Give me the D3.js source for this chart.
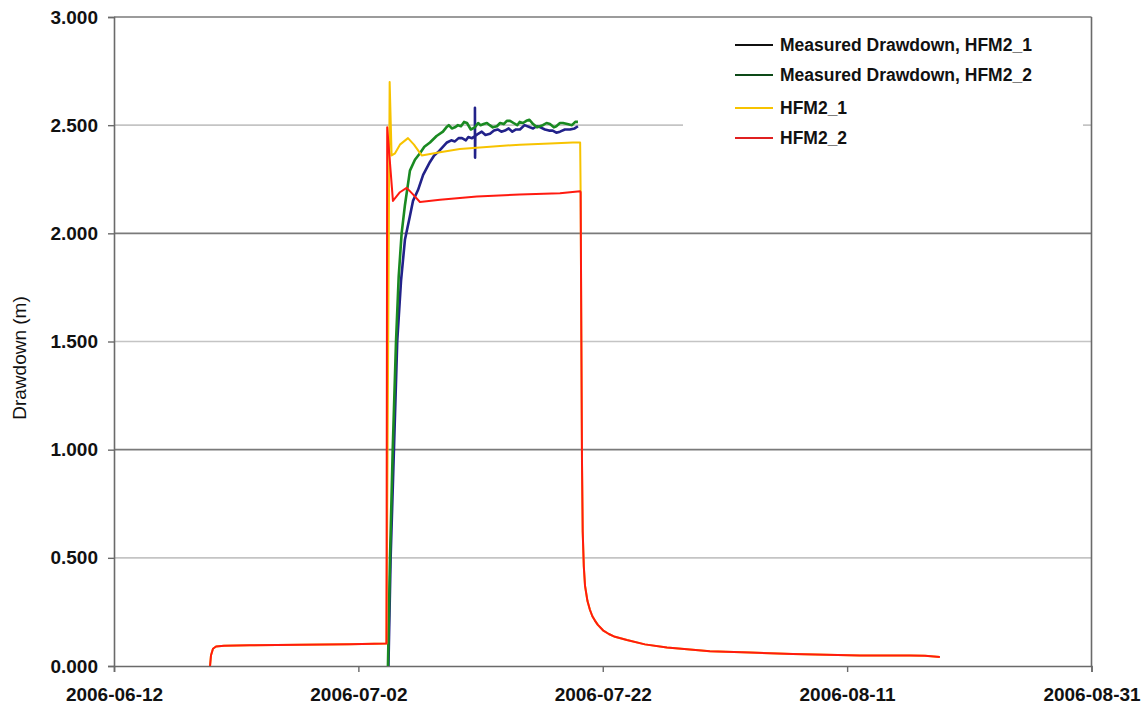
<!DOCTYPE html>
<html>
<head>
<meta charset="utf-8">
<script src="https://cdn.jsdelivr.net/npm/d3@7"></script>
<style>
  body { margin: 0; background: #fff; }
  svg { display: block; font-family: "Liberation Sans", Arial, sans-serif; }
</style>
</head>
<body>
<div id="chart"></div>
<script>
// Days since 2006-06-12 and drawdown (m)
const startDate = "2006-06-12";

const measured1Days = [22.46, 22.64, 22.91, 23.18, 23.49, 23.81, 24.22, 24.47, 24.88, 25.3, 25.86, 26.2, 26.6, 27.25,
  27.6, 27.9, 28.2, 28.48, 28.8, 29.0, 29.3, 29.54, 29.54, 29.55, 29.57, 29.8, 30.1, 30.4, 30.77, 31.1, 31.4, 31.7,
  32.0, 32.3, 32.6, 32.9, 33.22, 33.6, 34.04, 34.3, 34.6, 34.9, 35.27, 35.6, 35.9, 36.2, 36.5, 36.9, 37.32, 37.7, 37.97];
const measured1Vals = [0, 0.5, 1.0, 1.5, 1.78, 1.97, 2.08, 2.15, 2.2, 2.27, 2.33, 2.36, 2.38, 2.42,
  2.43, 2.425, 2.44, 2.44, 2.43, 2.445, 2.44, 2.45, 2.58, 2.35, 2.45, 2.46, 2.47, 2.455, 2.46, 2.475, 2.48, 2.47,
  2.475, 2.485, 2.47, 2.48, 2.48, 2.5, 2.49, 2.485, 2.495, 2.49, 2.48, 2.475, 2.475, 2.465, 2.47, 2.48, 2.48, 2.485, 2.495];

const measured2Days = [22.42, 22.59, 22.81, 23.08, 23.3, 23.54, 23.81, 24.22, 24.63, 25.04, 25.4, 25.86, 26.4, 26.92,
  27.2, 27.4, 27.65, 27.9, 28.15, 28.4, 28.65, 28.89, 29.2, 29.54, 29.8, 30.0, 30.25, 30.52, 30.75, 31.0, 31.34, 31.6,
  31.9, 32.15, 32.41, 32.7, 33.0, 33.2, 33.47, 33.75, 34.0, 34.3, 34.62, 34.85, 35.1, 35.4, 35.68, 36.0, 36.2, 36.5,
  36.74, 37.1, 37.48, 37.75, 37.97];
const measured2Vals = [0, 0.5, 1.0, 1.5, 1.8, 2.0, 2.13, 2.29, 2.34, 2.37, 2.4, 2.42, 2.45, 2.47,
  2.49, 2.5, 2.485, 2.49, 2.5, 2.495, 2.515, 2.51, 2.48, 2.49, 2.51, 2.5, 2.505, 2.51, 2.5, 2.49, 2.495, 2.51,
  2.505, 2.52, 2.52, 2.51, 2.5, 2.515, 2.51, 2.52, 2.525, 2.505, 2.49, 2.495, 2.5, 2.51, 2.505, 2.49, 2.495, 2.51,
  2.51, 2.505, 2.5, 2.515, 2.515];

const hfm1Days = [7.86, 7.94, 8.1, 8.35, 9.0, 11.1, 15.2, 19.3, 22.3, 22.56, 22.72, 23.0, 23.4, 24.06, 24.55,
  25.18, 26.68, 28.3, 30.77, 33.22, 35.68, 37.56, 38.15, 38.19, 38.25, 38.3, 38.36, 38.45, 38.55, 38.75, 38.95, 39.15,
  39.36, 39.6, 40.02, 40.5, 41.0, 41.98, 43.45, 45.25, 48.77, 52.05, 55.56, 61.05, 65.14, 66.37, 67.59];
const hfm1Vals = [0, 0.05, 0.08, 0.09, 0.094, 0.096, 0.098, 0.1, 0.104, 2.7, 2.36, 2.37, 2.41, 2.44, 2.41,
  2.36, 2.375, 2.39, 2.4, 2.41, 2.415, 2.42, 2.42, 2.19, 1.5, 0.95, 0.62, 0.46, 0.37, 0.3, 0.26, 0.23,
  0.21, 0.19, 0.165, 0.148, 0.135, 0.12, 0.1, 0.085, 0.068, 0.062, 0.055, 0.049, 0.049, 0.047, 0.042];

const hfm2Days = [7.86, 7.94, 8.1, 8.35, 9.0, 11.1, 15.2, 19.3, 22.3, 22.36, 22.83, 23.4, 23.95, 24.47,
  25.04, 26.68, 29.7, 33.2, 36.5, 38.15, 38.19, 38.25, 38.3, 38.36, 38.45, 38.55, 38.75, 38.95, 39.15,
  39.36, 39.6, 40.02, 40.5, 41.0, 41.98, 43.45, 45.25, 48.77, 52.05, 55.56, 61.05, 65.14, 66.37, 67.59];
const hfm2Vals = [0, 0.05, 0.08, 0.09, 0.094, 0.096, 0.098, 0.1, 0.104, 2.49, 2.15, 2.19, 2.21, 2.18,
  2.145, 2.155, 2.17, 2.18, 2.185, 2.195, 2.19, 1.5, 0.95, 0.62, 0.46, 0.37, 0.3, 0.26, 0.23,
  0.21, 0.19, 0.165, 0.148, 0.135, 0.12, 0.1, 0.085, 0.068, 0.062, 0.055, 0.049, 0.049, 0.047, 0.042];

const seriesNames = ["Measured Drawdown, HFM2_1", "Measured Drawdown, HFM2_2", "HFM2_1", "HFM2_2"];
const lineColors = ["#22228a", "#1a8a22", "#f7c300", "#ff1a10"];
const legendColors = ["#101010", "#0d4a18", "#f7c300", "#e02020"];

const xTickLabels = ["2006-06-12", "2006-07-02", "2006-07-22", "2006-08-11", "2006-08-31"];
const yTicks = [0, 0.5, 1.0, 1.5, 2.0, 2.5, 3.0];

const W = 1146, H = 705;
const plot = { left: 114, right: 1091.5, top: 17, bottom: 666 };

const parse = d3.utcParse("%Y-%m-%d");
const t0 = parse(startDate).getTime();
const toDate = (d) => new Date(t0 + d * 86400000);

const series = [
  { days: measured1Days, vals: measured1Vals, w: 2.6 },
  { days: measured2Days, vals: measured2Vals, w: 2.6 },
  { days: hfm1Days, vals: hfm1Vals, w: 2 },
  { days: hfm2Days, vals: hfm2Vals, w: 2 }
];

const x = d3.scaleUtc()
  .domain([parse(xTickLabels[0]), parse(xTickLabels[xTickLabels.length - 1])])
  .range([plot.left, plot.right]);
const y = d3.scaleLinear().domain([0, 3]).range([plot.bottom, plot.top]);

const svg = d3.select("#chart").append("svg")
  .attr("width", W)
  .attr("height", H);

// gridlines
svg.append("g")
  .selectAll("line")
  .data(yTicks.filter((v) => v > 0))
  .enter()
  .append("line")
  .attr("x1", plot.left)
  .attr("x2", plot.right)
  .attr("y1", (d) => y(d))
  .attr("y2", (d) => y(d))
  .attr("stroke", (d) => (Math.round(d * 2) % 2 === 1 ? "#c4c4c4" : "#7a7a7a"))
  .attr("stroke-width", 1.6);

// right border
svg.append("line")
  .attr("x1", plot.right).attr("x2", plot.right)
  .attr("y1", plot.top).attr("y2", plot.bottom)
  .attr("stroke", "#6a6a6a").attr("stroke-width", 1.6);

// axes
const yAxis = d3.axisLeft(y)
  .tickValues(yTicks)
  .tickSize(6)
  .tickPadding(10)
  .tickFormat(d3.format(".3f"));
const gy = svg.append("g").attr("transform", `translate(${plot.left},0)`).call(yAxis);

const xAxis = d3.axisBottom(x)
  .tickValues(xTickLabels.map(parse))
  .tickSize(6)
  .tickPadding(16)
  .tickFormat(d3.utcFormat("%Y-%m-%d"));
const gx = svg.append("g").attr("transform", `translate(0,${plot.bottom})`).call(xAxis);

[gx, gy].forEach((g) => {
  g.select(".domain").attr("stroke", "#6a6a6a").attr("stroke-width", 1.6);
  g.selectAll(".tick line").attr("stroke", "#6a6a6a").attr("stroke-width", 1.4);
  g.selectAll(".tick text")
    .attr("fill", "#111")
    .style("font-size", "19px")
    .style("font-weight", "bold");
});

// y title
svg.append("text")
  .attr("transform", `translate(26,358) rotate(-90)`)
  .attr("text-anchor", "middle")
  .style("font-size", "19px")
  .attr("fill", "#111")
  .text("Drawdown (m)");

// legend background (hides gridline behind it)
svg.append("rect")
  .attr("x", 683).attr("y", 28)
  .attr("width", 400).attr("height", 124)
  .attr("fill", "#fff");

// data lines
const line = d3.line()
  .x((d) => x(d[0]))
  .y((d) => y(d[1]));

series.forEach((s, i) => {
  const pts = s.days.map((d, j) => [toDate(d), s.vals[j]]);
  svg.append("path")
    .datum(pts)
    .attr("fill", "none")
    .attr("stroke", lineColors[i])
    .attr("stroke-width", s.w)
    .attr("stroke-linejoin", "round")
    .attr("d", line);
});

// legend
const legendY = [45, 75, 108, 138];
const lg = svg.append("g");
seriesNames.forEach((name, i) => {
  lg.append("line")
    .attr("x1", 735).attr("x2", 773)
    .attr("y1", legendY[i]).attr("y2", legendY[i])
    .attr("stroke", legendColors[i])
    .attr("stroke-width", 2);
  lg.append("text")
    .attr("x", 780)
    .attr("y", legendY[i] + 6)
    .style("font-size", "17.5px")
    .style("font-weight", "bold")
    .attr("fill", "#111")
    .text(name);
});
</script>
</body>
</html>
